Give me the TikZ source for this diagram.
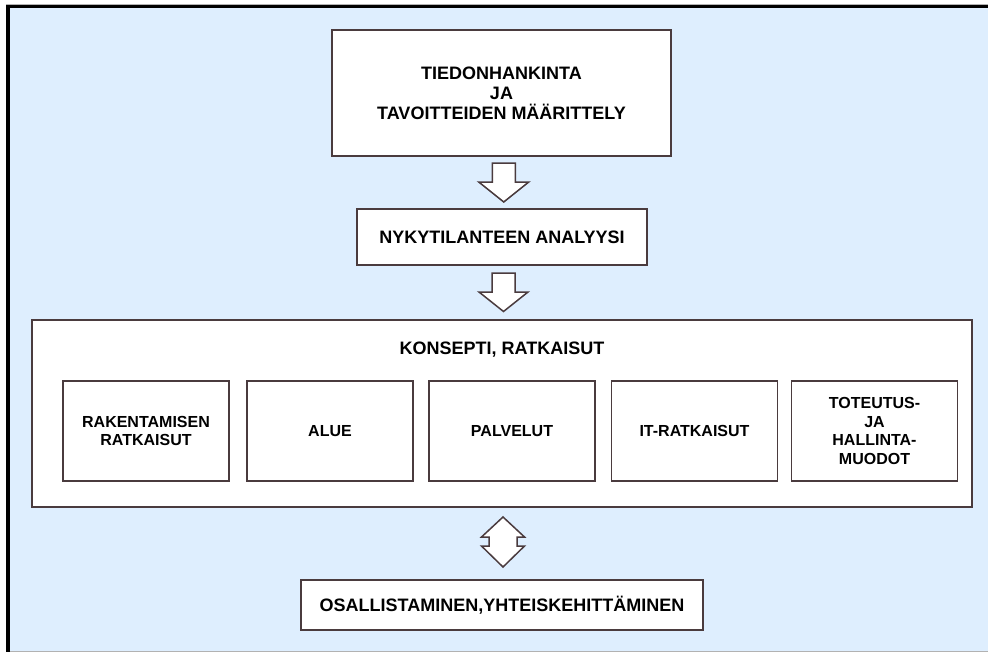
\documentclass[tikz,border=0pt]{standalone}
\usepackage{fontspec}
\setmainfont{Liberation Sans}
\usetikzlibrary{calc}
\definecolor{panel}{HTML}{DEEEFE}
\definecolor{edge}{HTML}{4A3B3E}
\begin{document}
\begin{tikzpicture}[x=1pt,y=-1pt,
  bigbox/.style={draw=edge, line width=2.2pt, fill=white, align=center,
    font=\fontsize{18}{20}\selectfont\bfseries, inner sep=0pt},
  subbox/.style={draw=edge, line width=1.5pt, fill=white, align=center,
    minimum width=166pt, minimum height=100pt,
    font=\fontsize{16}{18.7}\selectfont\bfseries, inner sep=0pt},
  title/.style={font=\fontsize{18}{20}\selectfont\bfseries, inner sep=0pt},
  blockarrow/.style={draw=edge, line width=1.5pt, fill=white, line join=miter}]
\useasboundingbox (0,0) rectangle (988,654);
% framed panel
\fill[panel] (10,8) rectangle (988,651);
\draw[gray!60, line width=1pt] (6,4.5) -- (988,4.5);
\draw[gray!60, line width=1pt] (10,651.5) -- (988,651.5);
\fill[black] (6,5) rectangle (988,8.3);
\fill[black] (6,5) rectangle (10,652);

% process steps
\node[bigbox, minimum width=339pt, minimum height=126pt] (info) at (501.5,93)
  {TIEDONHANKINTA\\JA\\TAVOITTEIDEN MÄÄRITTELY};
\node[bigbox, minimum width=290pt, minimum height=56pt] (nyky) at (502,237)
  {NYKYTILANTEEN ANALYYSI};
\node[bigbox, minimum width=940pt, minimum height=187pt] (konsepti) at (502,413.5) {};
\node[title] (konseptititle) at (502,350) {KONSEPTI, RATKAISUT};
\node[subbox] (rak) at (146,431) {RAKENTAMISEN\\RATKAISUT};
\node[subbox] (alue) at (330,431) {ALUE};
\node[subbox] (palv) at (512,431) {PALVELUT};
\node[subbox] (it) at (694.5,431) {IT-RATKAISUT};
\node[subbox] (tot) at (874.5,431) {TOTEUTUS-\\JA\\HALLINTA-\\MUODOT};
\node[bigbox, minimum width=402pt, minimum height=50pt] (osal) at (502,605)
  {OSALLISTAMINEN,YHTEISKEHITTÄMINEN};

% block arrows between the steps
\coordinate (a1) at ($(info.south)!0.5!(nyky.north)+(2,0)$);
\coordinate (a2) at ($(nyky.south)!0.5!(konsepti.north)+(1.5,0)$);
\coordinate (a3) at ($(konsepti.south)!0.5!(osal.north)+(1,-1.5)$);
\draw[blockarrow, shift={(a1)}] (-11.5,-19.5) -- (11.5,-19.5) -- (11.5,-0.5)
  -- (25,-0.5) -- (0,19.5) -- (-25,-0.5) -- (-11.5,-0.5) -- cycle;
\draw[blockarrow, shift={(a2)}] (-11.5,-19.5) -- (11.5,-19.5) -- (11.5,-0.5)
  -- (24.5,-0.5) -- (0,19) -- (-24.5,-0.5) -- (-11.5,-0.5) -- cycle;
\draw[blockarrow, shift={(a3)}] (0,-25) -- (21.5,-5) -- (14,-5) -- (14,4)
  -- (21.5,4) -- (0,25) -- (-21.5,4) -- (-14,4) -- (-14,-5) -- (-21.5,-5) -- cycle;
\end{tikzpicture}
\end{document}
